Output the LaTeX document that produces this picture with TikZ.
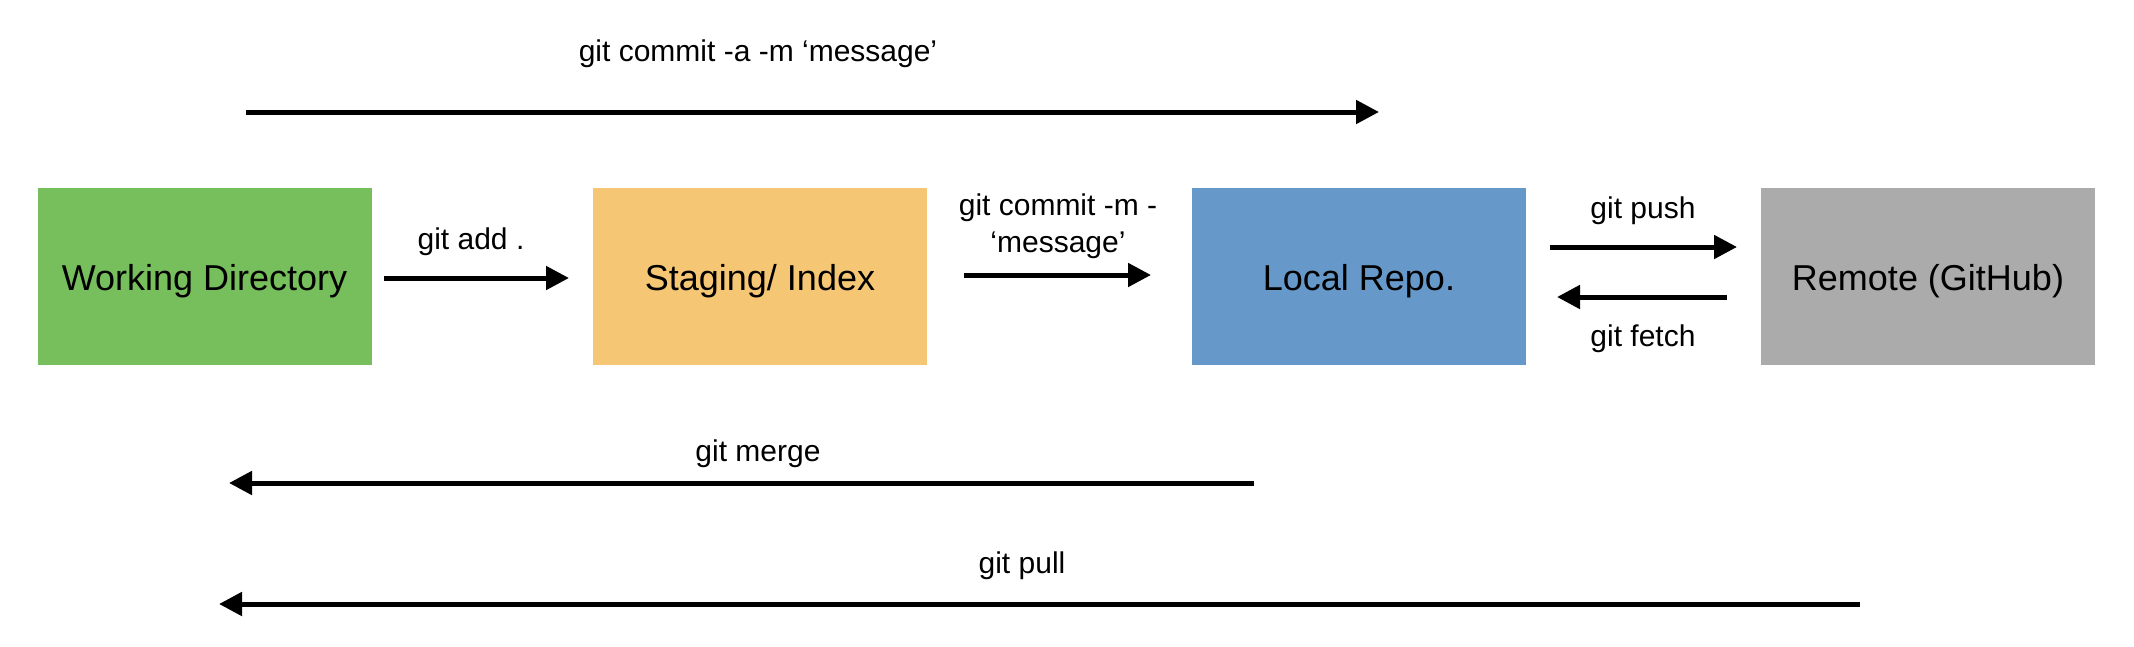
\documentclass[tikz,border=0pt]{standalone}
\usepackage{fontspec}
\setmainfont{Liberation Sans}
\usetikzlibrary{arrows.meta}
\definecolor{wdgreen}{HTML}{76BF5C}
\definecolor{stgorange}{HTML}{F5C673}
\definecolor{lrblue}{HTML}{6699C9}
\definecolor{rmgray}{HTML}{ABABAB}
\tikzset{
  box/.style={minimum width=334pt, minimum height=177pt, inner sep=0pt, draw=none},
  boxtext/.style={font=\fontsize{36}{43}\selectfont, inner sep=0pt},
  lbl/.style={font=\fontsize{30}{37}\selectfont, inner sep=0pt, align=center},
  arr/.style={line width=5pt, -{Triangle[length=23pt,width=23pt]}}
}
\begin{document}
\begin{tikzpicture}[x=1pt,y=-1pt]
\useasboundingbox (0,0) rectangle (2134,646);
\node[box, fill=wdgreen] (wd) at (204.5,276.5) {};
\node[box, fill=stgorange] (st) at (760,276.5) {};
\node[box, fill=lrblue] (lr) at (1359,276.5) {};
\node[box, fill=rmgray] (rm) at (1928,276.5) {};
\node[boxtext] (wdt) at ([yshift=-5pt]wd.center) {Working Directory};
\node[boxtext] (stt) at ([yshift=-5pt]st.center) {Staging/ Index};
\node[boxtext] (lrt) at ([yshift=-5pt]lr.center) {Local Repo.};
\node[boxtext] (rmt) at ([yshift=-5pt]rm.center) {Remote (GitHub)};

\coordinate (ca1) at (246,112);  \coordinate (ca2) at (1379,112);
\coordinate (ad1) at (384,278);  \coordinate (ad2) at (569,278);
\coordinate (cm1) at (964,275);  \coordinate (cm2) at (1151,275);
\coordinate (pu1) at (1550,247); \coordinate (pu2) at (1737,247);
\coordinate (fe1) at (1727,297); \coordinate (fe2) at (1557,297);
\coordinate (me1) at (1254,483); \coordinate (me2) at (229,483);
\coordinate (pl1) at (1860,604); \coordinate (pl2) at (219,604);

\draw[arr] (ca1) -- (ca2);
\draw[arr] (ad1) -- (ad2);
\draw[arr] (cm1) -- (cm2);
\draw[arr] (pu1) -- (pu2);
\draw[arr] (fe1) -- (fe2);
\draw[arr] (me1) -- (me2);
\draw[arr] (pl1) -- (pl2);

\node[lbl] (lca) at (758,54) {git commit -a -m ‘message’};
\node[lbl] (lad) at (471,242) {git add .};
\node[lbl] (lcm) at (1058,226) {git commit -m -\\‘message’};
\node[lbl] (lpu) at (1643,211) {git push};
\node[lbl] (lfe) at (1643,339) {git fetch};
\node[lbl] (lme) at (758,454) {git merge};
\node[lbl] (lpl) at (1022,566) {git pull};
\end{tikzpicture}
\end{document}
